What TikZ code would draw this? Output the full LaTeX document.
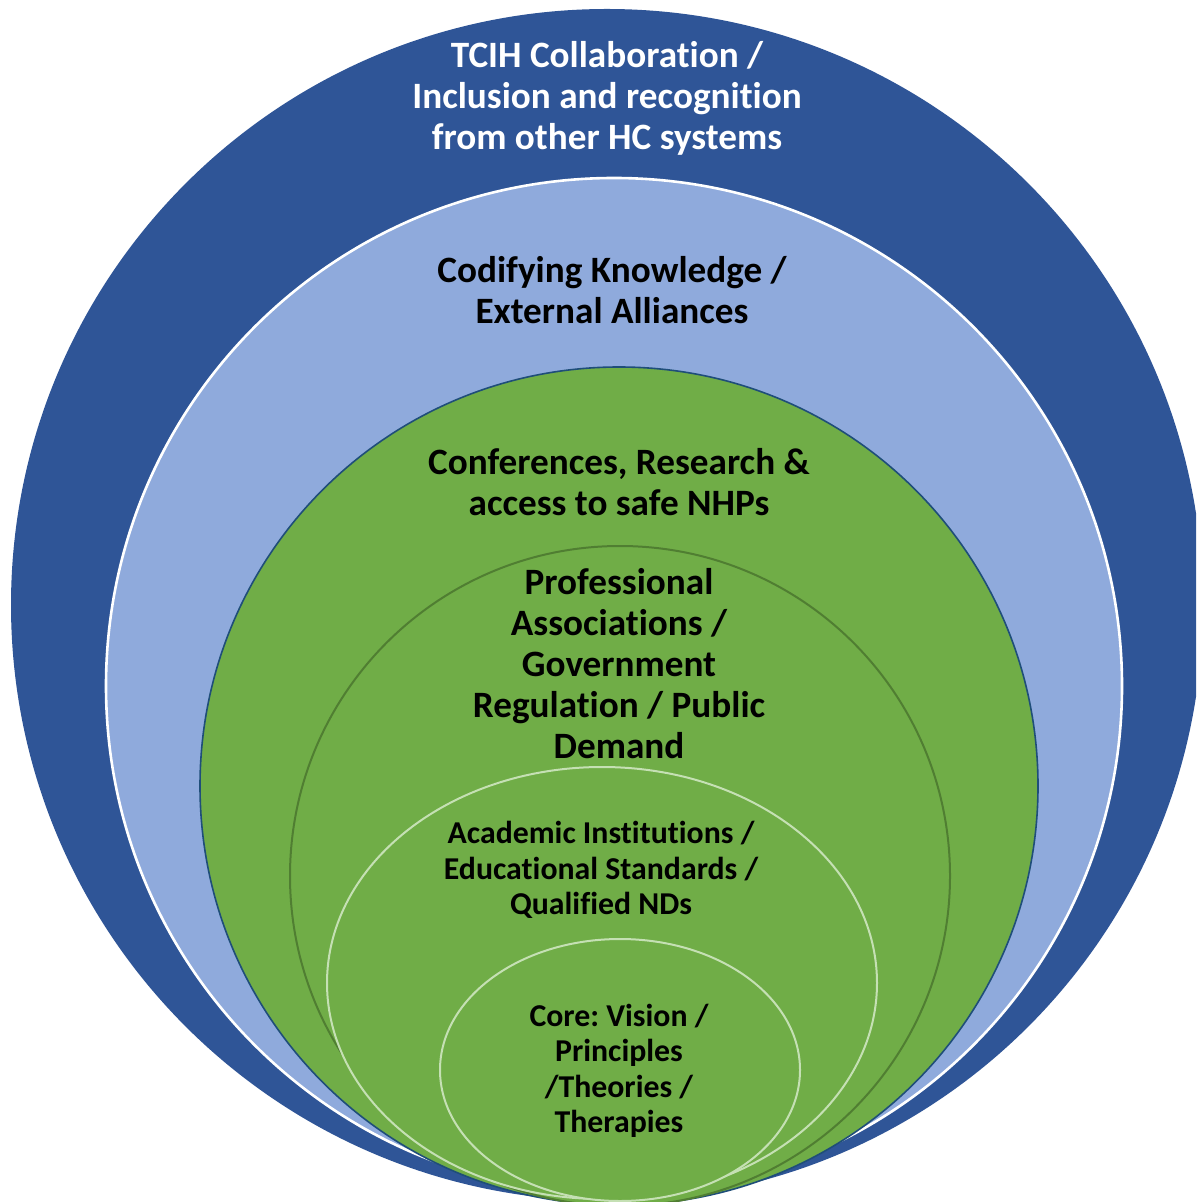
\documentclass[tikz,border=0pt]{standalone}
\usepackage{fontspec}
\setmainfont{Carlito}[RawFeature=-liga]
\usetikzlibrary{shapes.geometric}
\frenchspacing

\definecolor{ringdark}{HTML}{2F5597}
\definecolor{ringlight}{HTML}{8FAADC}
\definecolor{ringgreen}{HTML}{70AD47}
\definecolor{edgegreen}{HTML}{507E32}
\definecolor{edgepale}{HTML}{C5E0B4}
\definecolor{edgenavy}{HTML}{1F4E79}

\begin{document}
\begin{tikzpicture}[x=0.5pt, y=-0.5pt,
    ring/.style={circle, inner sep=0pt, outer sep=0pt},
    oval/.style={ellipse, inner sep=0pt, outer sep=0pt},
    biglabel/.style={align=center, font=\bfseries\fontsize{18.6}{20.5}\selectfont},
    smalllabel/.style={align=center, font=\bfseries\fontsize{15.9}{17.7}\selectfont}]
    \useasboundingbox (0,0) rectangle (1196,1202);
    \clip (0,0) rectangle (1196,1202);

    % Rings
    \node[ring, fill=ringdark, minimum size=596pt] (tcih) at (607,605) {};
    \node[ring, fill=ringlight, draw=white, line width=1.3pt, minimum size=508pt] (codify) at (614,686) {};
    \node[ring, fill=ringgreen, draw=edgenavy, line width=0.8pt, minimum size=419pt] (confer) at (619,786) {};
    \node[ring, fill=ringgreen, draw=edgegreen, line width=1pt, minimum size=330pt] (assoc) at (620,876) {};
    \node[oval, fill=ringgreen, draw=edgepale, line width=1pt, minimum width=275pt, minimum height=216pt] (academic) at (602,983) {};
    \node[oval, fill=ringgreen, draw=edgepale, line width=1pt, minimum width=180pt, minimum height=131pt] (core) at (620,1070) {};

    % Labels
    \node[biglabel, text=white] (tcihtext) at (607,98) {TCIH Collaboration /\\Inclusion and recognition\\from other HC systems};
    \node[biglabel] (codifytext) at (612,290) {Codifying Knowledge /\\External Alliances};
    \node[biglabel] (confertext) at (619,482) {Conferences, Research \&\\access to safe NHPs};
    \node[biglabel] (assoctext) at (619,664) {Professional\\Associations /\\Government\\Regulation / Public\\Demand};
    \node[smalllabel] (academictext) at (601,870) {Academic Institutions /\\Educational Standards /\\Qualified NDs};
    \node[smalllabel] (coretext) at (619,1071) {Core: Vision /\\Principles\\/Theories /\\Therapies};
\end{tikzpicture}
\end{document}
